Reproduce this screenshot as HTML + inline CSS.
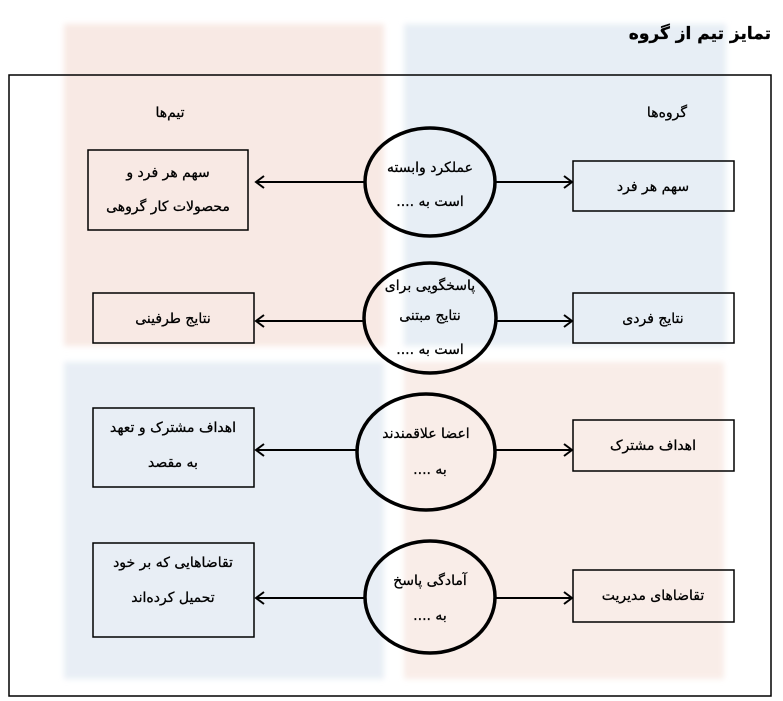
<!DOCTYPE html>
<html><head><meta charset="utf-8"><style>
html,body{margin:0;padding:0;background:#fff;}
svg{display:block;}
text{font-family:"DejaVu Sans","Liberation Sans",sans-serif;font-size:14px;fill:#000;stroke:#000;stroke-width:0.3;direction:rtl;}
</style></head><body>
<svg width="783" height="701" viewBox="0 0 783 701" xmlns="http://www.w3.org/2000/svg">
<defs>
<filter id="b" x="-5%" y="-5%" width="110%" height="110%"><feGaussianBlur stdDeviation="3"/></filter>
</defs>
<rect x="64" y="24" width="320" height="322" fill="#f8e9e4" filter="url(#b)"/>
<rect x="404" y="24" width="322" height="322" fill="#e7eef5" filter="url(#b)"/>
<rect x="64" y="362" width="320" height="317" fill="#e8eef5" filter="url(#b)"/>
<rect x="404" y="362" width="320" height="317" fill="#f9ede8" filter="url(#b)"/>

<text x="771" y="39" text-anchor="start" style="font-weight:bold;font-size:17px">تمایز تیم از گروه</text>
<rect x="9" y="75" width="762" height="621" fill="none" stroke="#000" stroke-width="1.5"/>

<text x="170" y="117" text-anchor="middle">تیم‌ها</text>
<text x="667" y="117" text-anchor="middle">گروه‌ها</text>

<g fill="none" stroke="#000" stroke-width="1.5">
<rect x="88" y="150" width="160" height="80"/>
<rect x="573" y="161" width="161" height="50"/>
<rect x="93" y="293" width="161" height="50"/>
<rect x="573" y="293" width="161" height="50"/>
<rect x="93" y="408" width="161" height="79"/>
<rect x="573" y="420" width="161" height="51"/>
<rect x="93" y="543" width="161" height="94"/>
<rect x="573" y="570" width="161" height="52"/>
</g>
<g fill="none" stroke="#000" stroke-width="2">
<path d="M364 182H256M264 176l-8 6 8 6M495 182H572M564 176l8 6-8 6"/>
<path d="M364 321H256M264 315l-8 6 8 6M497 321H572M564 315l8 6-8 6"/>
<path d="M357 450H256M264 444l-8 6 8 6M495 450H572M564 444l8 6-8 6"/>
<path d="M364 598H256M264 592l-8 6 8 6M495 598H572M564 592l8 6-8 6"/>
</g>
<g fill="none" stroke="#000" stroke-width="3.5">
<ellipse cx="430" cy="182" rx="65" ry="54"/>
<ellipse cx="430" cy="318" rx="66" ry="55"/>
<ellipse cx="426" cy="452" rx="69" ry="58"/>
<ellipse cx="430" cy="597" rx="65" ry="56"/>
</g>

<g text-anchor="middle">
<text x="430" y="172">عملکرد وابسته</text>
<text x="430" y="206">است به ....</text>
<text x="430" y="290">پاسخگویی برای</text>
<text x="430" y="320">نتایج مبتنی</text>
<text x="430" y="354">است به ....</text>
<text x="426" y="438">اعضا علاقمندند</text>
<text x="430" y="474">به ....</text>
<text x="430" y="585">آمادگی پاسخ</text>
<text x="430" y="620">به ....</text>

<text x="168" y="177">سهم هر فرد و</text>
<text x="168" y="211">محصولات کار گروهی</text>
<text x="653" y="191">سهم هر فرد</text>
<text x="173" y="323">نتایج طرفینی</text>
<text x="653" y="323">نتایج فردی</text>
<text x="173" y="432">اهداف مشترک و تعهد</text>
<text x="173" y="467">به مقصد</text>
<text x="653" y="450">اهداف مشترک</text>
<text x="173" y="567">تقاضاهایی که بر خود</text>
<text x="173" y="602">تحمیل کرده‌اند</text>
<text x="653" y="600">تقاضاهای مدیریت</text>
</g>
</svg>
</body></html>
